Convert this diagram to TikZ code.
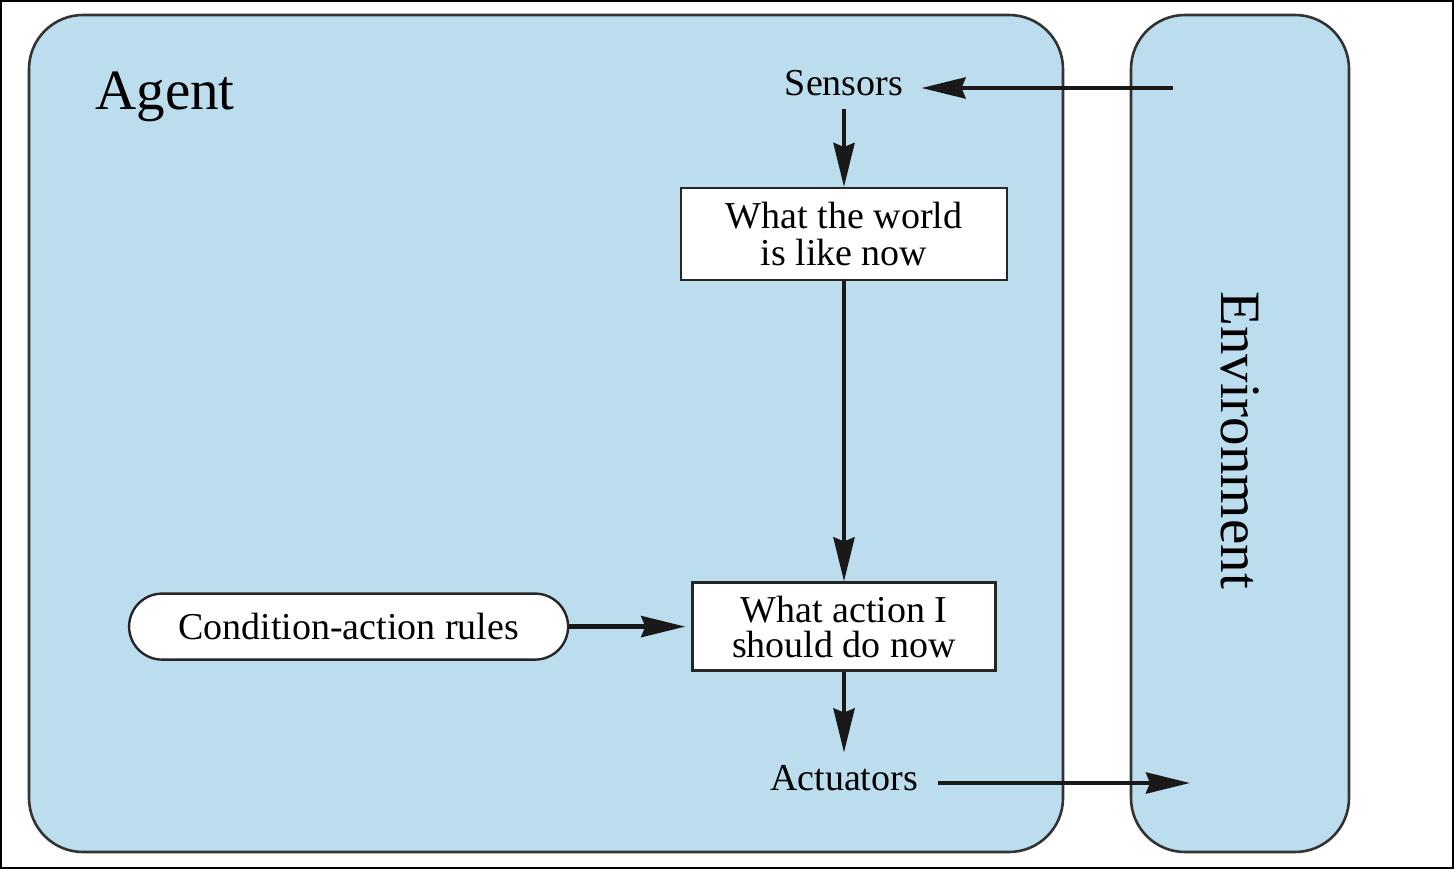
\documentclass[tikz,border=0pt]{standalone}
\usepackage{fontspec}
\setmainfont{Liberation Serif}
\usepackage{xcolor}
\usetikzlibrary{positioning, arrows.meta}
\definecolor{agentblue}{RGB}{188,221,237}

\begin{document}
\begin{tikzpicture}[x=0.5pt, y=0.5pt,
        >={Stealth[length=22pt,width=10.5pt,inset=2pt]},
        panel/.style={draw=black!80,line width=1.3pt,fill=agentblue,rounded corners=27pt},
        box/.style={draw=black!85,line width=1.2pt,fill=white,align=center,inner sep=0pt,font=\fontsize{19}{18.5}\selectfont},
        txt/.style={inner sep=0pt,font=\fontsize{19}{22}\selectfont},
        big/.style={inner sep=0pt,font=\fontsize{28.5}{34}\selectfont},
        flow/.style={->,line width=2.2pt,black!90}]
        %\tikzset{txt/.style={font=\small}}
        \useasboundingbox (0,0) rectangle (1454,869);
        \draw[line width=1pt] (1,1) rectangle (1453,868);

        \draw[panel] (29,17) rectangle (1063,854);
        \draw[panel] (1131,17) rectangle (1349,854);
        \node[big,anchor=base west] (agent) at (95,759) {Agent};
        \node[big,anchor=base,rotate=-90] (env) at (1221,429) {Environment};

        \node[txt,anchor=base] (sensors) at (844,773) {Sensors};
        \node[box,minimum width=163pt,minimum height=46pt] (world) [below=45.5pt of sensors.base] {What the world\\is like now};
        \node[box,minimum width=151.5pt,minimum height=44pt,font=\fontsize{19}{17.5}\selectfont] (action) [below=150pt of world] {What action I\\should do now};
        \node[txt,anchor=base] (actuators) at (844,79) {Actuators};

        \node[box,rounded corners=16.5pt,minimum width=219.5pt,minimum height=33pt] (rules) [left=61pt of action] {Condition-action rules};

        \coordinate (percept) at (1173,781);
        \coordinate (effect) at (1190,86);


        \draw[flow,shorten >=9pt] (percept) -- (percept -| sensors.east);
        \draw[flow,shorten <=6pt] (sensors) edge (world);
        \draw[flow] (world) edge (action);
        \draw[flow,shorten >=6pt] (action) edge (actuators);
        \draw[flow,shorten >=3pt] (rules) edge (action);
        \draw[flow,shorten <=10pt] (actuators.east |- effect) -- (effect);


    \end{tikzpicture}
\end{document}
